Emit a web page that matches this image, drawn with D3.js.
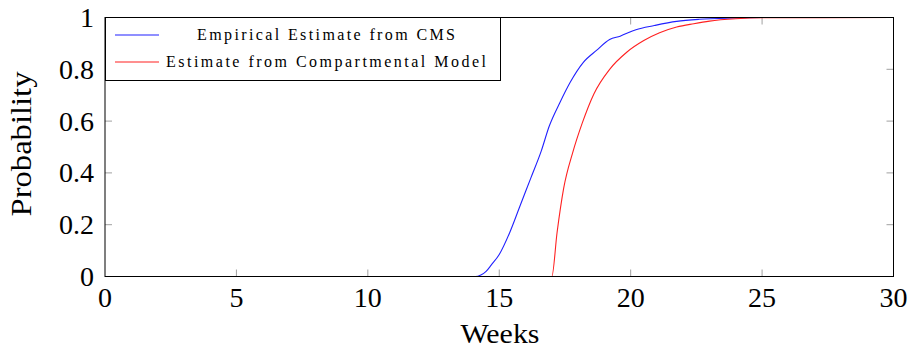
<!DOCTYPE html>
<html>
<head>
<meta charset="utf-8">
<script src="https://cdn.jsdelivr.net/npm/d3@7"></script>
<style>
  body { margin: 0; background: white; }
  text { font-family: "Liberation Serif", "DejaVu Serif", serif; fill: #000; }
</style>
</head>
<body>
<svg id="chart" width="911" height="348"></svg>
<script>
// data
var cmsWeeks = [0, 14.1, 14.3, 14.5, 14.7, 15.0, 15.4, 15.8, 16.2, 16.6, 16.9, 17.3, 17.7, 18.2, 18.7, 19.2, 19.6, 20.2, 20.9, 21.75, 22.6, 24.0, 25.0, 30];
var cmsProb  = [0, 0, 0.006, 0.02, 0.045, 0.085, 0.17, 0.275, 0.38, 0.485, 0.58, 0.67, 0.75, 0.827, 0.873, 0.915, 0.928, 0.953, 0.969, 0.985, 0.993, 0.998, 1, 1];

var modelWeeks = [0, 17.0, 17.2, 17.45, 17.8, 18.15, 18.6, 19.2, 19.85, 20.5, 21.1, 21.75, 22.4, 23.0, 24.0, 25.2, 30];
var modelProb  = [0, 0, 0.17, 0.34, 0.48, 0.59, 0.705, 0.80, 0.866, 0.911, 0.941, 0.963, 0.976, 0.986, 0.995, 0.999, 1];

var xTicks = [0, 5, 10, 15, 20, 25, 30];
var yTicks = [0, 0.2, 0.4, 0.6, 0.8, 1];
var legendLabels = ["Empirical Estimate from CMS", "Estimate from Compartmental Model"];
var seriesColors = ["#2020ff", "#ff2020"];

var svg = d3.select("#chart");
var m = {left: 105, right: 893.5, top: 17.5, bottom: 276.5};

var x = d3.scaleLinear().domain([0, 30]).range([m.left, m.right]);
var y = d3.scaleLinear().domain([0, 1]).range([m.bottom, m.top]);

// inward grey ticks on all four sides
var tickLen = 7;
var tg = svg.append("g").attr("stroke", "#a0a0a0").attr("stroke-width", 1);
xTicks.slice(1, -1).forEach(t => {
    tg.append("line").attr("x1", x(t)).attr("x2", x(t)).attr("y1", m.bottom).attr("y2", m.bottom - tickLen);
    tg.append("line").attr("x1", x(t)).attr("x2", x(t)).attr("y1", m.top).attr("y2", m.top + tickLen);
});
yTicks.slice(1, -1).forEach(t => {
    tg.append("line").attr("y1", y(t)).attr("y2", y(t)).attr("x1", m.left).attr("x2", m.left + tickLen);
    tg.append("line").attr("y1", y(t)).attr("y2", y(t)).attr("x1", m.right).attr("x2", m.right - tickLen);
});

var line = (xs, ys) => d3.line()
    .x((d, i) => x(xs[i]))
    .y((d, i) => y(ys[i]))
    .curve(d3.curveMonotoneX)(xs);

svg.append("path").attr("d", line(cmsWeeks, cmsProb))
    .attr("fill", "none").attr("stroke", seriesColors[0]).attr("stroke-width", 1.1);
svg.append("path").attr("d", line(modelWeeks, modelProb))
    .attr("fill", "none").attr("stroke", seriesColors[1]).attr("stroke-width", 1.1);

// frame
svg.append("rect").attr("x", m.left).attr("y", m.top)
    .attr("width", m.right - m.left).attr("height", m.bottom - m.top)
    .attr("fill", "none").attr("stroke", "#000").attr("stroke-width", 1);

// tick labels
svg.append("g").selectAll("text").data(xTicks).join("text")
    .attr("x", d => x(d)).attr("y", 306.5)
    .attr("text-anchor", "middle").attr("font-size", 28)
    .text(d => d);
svg.append("g").selectAll("text").data(yTicks).join("text")
    .attr("x", 94).attr("y", d => y(d) + 9.5)
    .attr("text-anchor", "end").attr("font-size", 28)
    .text(d => d);

// axis titles
svg.append("text").attr("x", 500).attr("y", 343)
    .attr("text-anchor", "middle").attr("font-size", 28)
    .attr("textLength", 79).attr("lengthAdjust", "spacingAndGlyphs").text("Weeks");
svg.append("text").attr("transform", "translate(31,144) rotate(-90)")
    .attr("text-anchor", "middle").attr("font-size", 30)
    .attr("textLength", 145).attr("lengthAdjust", "spacingAndGlyphs").text("Probability");

// legend
var lg = svg.append("g");
lg.append("rect").attr("x", m.left + 0.5).attr("y", m.top).attr("width", 395).attr("height", 63)
    .attr("fill", "white").attr("stroke", "#000").attr("stroke-width", 1);
var rowY = [35, 62], textW = [258, 320];
legendLabels.forEach((lab, i) => {
    lg.append("line").attr("x1", 115).attr("x2", 159).attr("y1", rowY[i]).attr("y2", rowY[i])
        .attr("stroke", seriesColors[i]).attr("stroke-width", 1.1);
    lg.append("text").attr("x", 326 - textW[i] / 2).attr("y", rowY[i] + 5)
        .attr("font-size", 16).attr("textLength", textW[i]).attr("lengthAdjust", "spacing")
        .text(lab);
});
</script>
</body>
</html>
